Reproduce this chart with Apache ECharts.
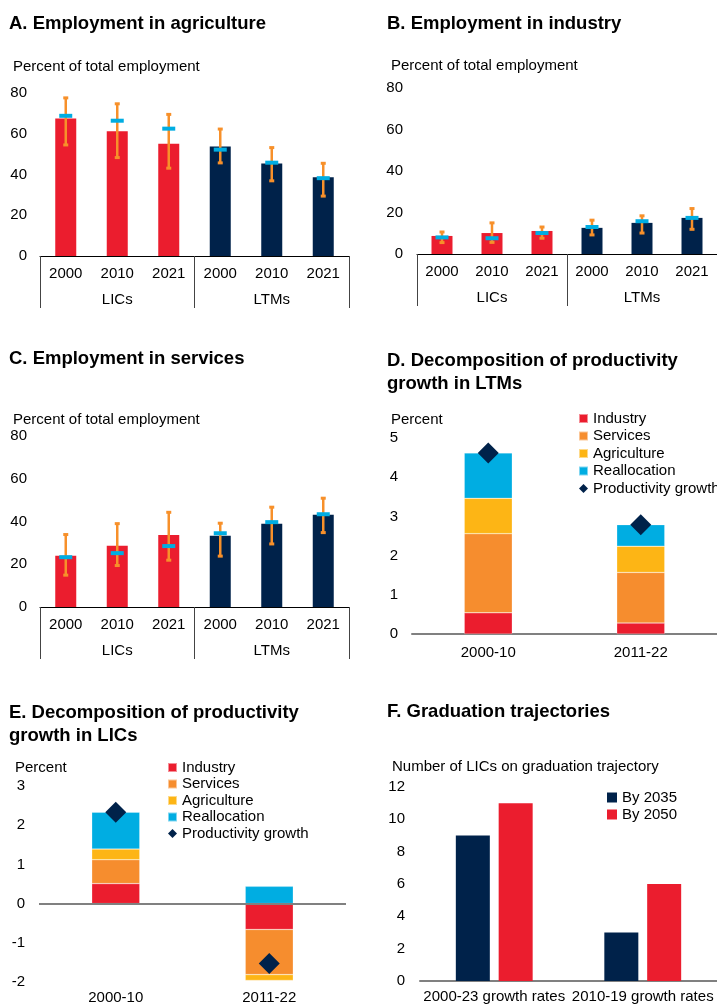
<!DOCTYPE html>
<html>
<head>
<meta charset="utf-8">
<script src="https://cdn.jsdelivr.net/npm/echarts@6/dist/echarts.min.js"></script>
<style>
  html, body { margin: 0; padding: 0; background: #fff; }
  #main { width: 717px; height: 1007px; }
</style>
</head>
<body>
<div id="main"></div>
<script>
// categories
var years = ['2000', '2010', '2021', '2000', '2010', '2021'];
var groups = ['LICs', 'LTMs'];
var periods = ['2000-10', '2011-22'];
var gradCats = ['2000-23 growth rates', '2010-19 growth rates'];

// A. agriculture: bar, blue marker, error range
var agriShare = [67.5, 61.2, 55.1, 53.7, 45.4, 38.7];
var agriMarker = [68.8, 66.4, 62.5, 52.2, 45.8, 38.2];
var agriLow = [54.5, 48.3, 43.1, 45.7, 36.9, 29.4];
var agriHigh = [77.6, 74.7, 69.5, 62.3, 53.2, 45.5];

// B. industry
var indShare = [8.7, 10.1, 11.1, 12.6, 15.0, 17.4];
var indMarker = [8.0, 7.6, 10.1, 13.0, 15.8, 17.4];
var indLow = [5.5, 5.6, 7.6, 9.2, 10.1, 11.9];
var indHigh = [10.6, 15.0, 13.0, 16.3, 18.4, 21.9];

// C. services
var servShare = [24.0, 28.6, 33.7, 33.3, 38.9, 43.1];
var servMarker = [23.3, 25.2, 28.5, 34.5, 39.7, 43.4];
var servLow = [14.9, 19.4, 21.9, 23.8, 29.5, 34.8];
var servHigh = [33.9, 39.0, 44.3, 39.2, 46.7, 50.9];

// D. decomposition LTMs
var ltmIndustry = [0.54, 0.28];
var ltmServices = [2.02, 1.29];
var ltmAgriculture = [0.90, 0.67];
var ltmReallocation = [1.16, 0.55];
var ltmProductivity = [4.62, 2.79];

// E. decomposition LICs
var licIndustry = [0.51, -0.66];
var licServices = [0.61, -1.15];
var licAgriculture = [0.27, -0.15];
var licReallocation = [0.94, 0.44];
var licProductivity = [2.33, -1.53];

// F. graduation trajectories
var by2035 = [9, 3];
var by2050 = [11, 6];

var RED = '#EB1D2E';
var NAVY = '#00224A';
var ORANGE = '#F68D2E';
var YELLOW = '#FDB515';
var BLUE = '#00ADE2';
var ERR = '#F7902A';
var FONT = 'Liberation Sans, Arial, sans-serif';

var myChart = echarts.init(document.getElementById('main'));

function barData(vals) {
    return vals.map(function (v, i) {
        return { value: v, itemStyle: { color: i < 3 ? RED : NAVY } };
    });
}

function errData(low, high) {
    return low.map(function (v, i) { return [i, v, high[i]]; });
}

function renderErr(params, api) {
    var top = api.coord([api.value(0), api.value(2)]);
    var bot = api.coord([api.value(0), api.value(1)]);
    var st = { fill: ERR, stroke: null };
    return {
        type: 'group',
        children: [
            { type: 'line', shape: { x1: top[0], y1: top[1], x2: bot[0], y2: bot[1] }, style: { stroke: ERR, lineWidth: 2.5 } },
            { type: 'rect', shape: { x: top[0] - 2.5, y: top[1] - 1.5, width: 5, height: 3 }, style: st },
            { type: 'rect', shape: { x: bot[0] - 2.5, y: bot[1] - 1.5, width: 5, height: 3 }, style: st }
        ]
    };
}

// one employment panel: bars + error range + marker
function employSeries(idx, share, marker, low, high) {
    return [
        { type: 'bar', xAxisIndex: idx * 2, yAxisIndex: idx, barWidth: 21, data: barData(share) },
        { type: 'custom', xAxisIndex: idx * 2, yAxisIndex: idx, renderItem: renderErr, data: errData(low, high), z: 3 },
        { type: 'scatter', xAxisIndex: idx * 2, yAxisIndex: idx, symbol: 'rect', symbolSize: [13, 4],
          itemStyle: { color: BLUE, opacity: 1 }, data: marker, z: 4 }
    ];
}

function yearAxis(grid) {
    return {
        type: 'category', gridIndex: grid, data: years, position: 'bottom',
        axisLine: { show: true, lineStyle: { color: '#000', width: 1 } },
        axisTick: { show: false },
        axisLabel: { color: '#000', fontSize: 15, fontFamily: FONT, margin: 10 }
    };
}

function groupAxis(grid) {
    return {
        type: 'category', gridIndex: grid, data: groups, position: 'bottom',
        axisLine: { show: false },
        axisTick: { show: true, length: 52, lineStyle: { color: '#444', width: 1 } },
        axisLabel: { color: '#000', fontSize: 15, fontFamily: FONT, margin: 36 }
    };
}

function valAxis(grid, min, max, step, margin) {
    return {
        type: 'value', gridIndex: grid, min: min, max: max, interval: step,
        axisLine: { show: false }, axisTick: { show: false }, splitLine: { show: false },
        axisLabel: { color: '#000', fontSize: 15, fontFamily: FONT, margin: margin }
    };
}

function periodAxis(grid, data, line, margin) {
    return {
        type: 'category', gridIndex: grid, data: data, position: 'bottom',
        axisLine: { show: line, onZero: false, lineStyle: { color: '#808080', width: 2 } },
        axisTick: { show: false },
        axisLabel: { color: '#000', fontSize: 15, fontFamily: FONT, margin: margin, interval: 0 }
    };
}

function heading(text, left, top) {
    return { text: text, left: left, top: top, padding: 0,
        textStyle: { fontSize: 18.5, fontWeight: 'bold', color: '#000', fontFamily: FONT, lineHeight: 23 } };
}

function unit(text, left, top) {
    return { text: text, left: left, top: top, padding: 0,
        textStyle: { fontSize: 15, fontWeight: 'normal', color: '#000', fontFamily: FONT } };
}

function stackSeries(xi, yi, stack, ind, serv, agri, realloc, prod) {
    var border = { borderColor: 'rgba(255,255,255,0.5)', borderWidth: 0.5 };
    return [
        { name: 'Industry', type: 'bar', stack: stack, xAxisIndex: xi, yAxisIndex: yi, barWidth: 48,
          itemStyle: Object.assign({ color: RED }, border), data: ind },
        { name: 'Services', type: 'bar', stack: stack, xAxisIndex: xi, yAxisIndex: yi,
          itemStyle: Object.assign({ color: ORANGE }, border), data: serv },
        { name: 'Agriculture', type: 'bar', stack: stack, xAxisIndex: xi, yAxisIndex: yi,
          itemStyle: Object.assign({ color: YELLOW }, border), data: agri },
        { name: 'Reallocation', type: 'bar', stack: stack, xAxisIndex: xi, yAxisIndex: yi,
          itemStyle: Object.assign({ color: BLUE }, border), data: realloc },
        { name: 'Productivity growth', type: 'scatter', xAxisIndex: xi, yAxisIndex: yi, symbol: 'diamond',
          symbolSize: 21, itemStyle: { color: NAVY, opacity: 1 }, data: prod, z: 5 }
    ];
}

var legendText = { fontSize: 15, color: '#000', fontFamily: FONT };
var decompNames = [
    { name: 'Industry', icon: 'rect' },
    { name: 'Services', icon: 'rect' },
    { name: 'Agriculture', icon: 'rect' },
    { name: 'Reallocation', icon: 'rect' },
    { name: 'Productivity growth', icon: 'diamond' }
];

var option = {
    animation: false,
    backgroundColor: '#fff',
    textStyle: { fontFamily: FONT },
    title: [
        heading('A. Employment in agriculture', 9, 12),
        heading('B. Employment in industry', 387, 12),
        heading('C. Employment in services', 9, 347),
        heading('D. Decomposition of productivity\ngrowth in LTMs', 387, 349),
        heading('E. Decomposition of productivity\ngrowth in LICs', 9, 701),
        heading('F. Graduation trajectories', 387, 700),
        unit('Percent of total employment', 13, 59),
        unit('Percent of total employment', 391, 58),
        unit('Percent of total employment', 13, 412),
        unit('Percent', 391, 412),
        unit('Percent', 15, 760),
        unit('Number of LICs on graduation trajectory', 392, 759)
    ],
    legend: [
        { data: decompNames, orient: 'vertical', left: 578, top: 411, padding: 0, itemWidth: 9, itemHeight: 9,
          itemGap: 2.5, textStyle: legendText, selectedMode: false },
        { data: decompNames, orient: 'vertical', left: 167, top: 760, padding: 0, itemWidth: 9, itemHeight: 9,
          itemGap: 1.5, textStyle: legendText, selectedMode: false },
        { data: [{ name: 'By 2035', icon: 'rect' }, { name: 'By 2050', icon: 'rect' }], orient: 'vertical',
          left: 607, top: 790, padding: 0, itemWidth: 10, itemHeight: 10,
          itemGap: 2, textStyle: legendText, selectedMode: false }
    ],
    grid: [
        { left: 40, top: 93, width: 309, height: 163 },
        { left: 417, top: 88, width: 308, height: 166 },
        { left: 40, top: 436, width: 309, height: 171 },
        { left: 412, top: 438, width: 310, height: 196 },
        { left: 39, top: 786, width: 307, height: 196 },
        { left: 420, top: 787, width: 304, height: 194 }
    ],
    xAxis: [
        yearAxis(0), groupAxis(0),
        yearAxis(1), groupAxis(1),
        yearAxis(2), groupAxis(2),
        periodAxis(3, periods, true, 11),
        periodAxis(4, periods, false, 8),
        periodAxis(5, gradCats, true, 8)
    ],
    yAxis: [
        valAxis(0, 0, 80, 20, 13),
        valAxis(1, 0, 80, 20, 14),
        valAxis(2, 0, 80, 20, 13),
        valAxis(3, 0, 5, 1, 14),
        valAxis(4, -2, 3, 1, 14),
        valAxis(5, 0, 12, 2, 15)
    ],
    series: []
};

option.series = option.series
    .concat(employSeries(0, agriShare, agriMarker, agriLow, agriHigh))
    .concat(employSeries(1, indShare, indMarker, indLow, indHigh))
    .concat(employSeries(2, servShare, servMarker, servLow, servHigh))
    .concat(stackSeries(6, 3, 'ltm', ltmIndustry, ltmServices, ltmAgriculture, ltmReallocation, ltmProductivity))
    .concat(stackSeries(7, 4, 'lic', licIndustry, licServices, licAgriculture, licReallocation, licProductivity));

// zero line for panel E
option.series.push({
    type: 'line', xAxisIndex: 7, yAxisIndex: 4, data: [], silent: true,
    markLine: { silent: true, symbol: 'none', label: { show: false },
        lineStyle: { color: '#808080', width: 2, type: 'solid' }, data: [{ yAxis: 0 }] },
    z: 1
});

// F
option.series.push(
    { name: 'By 2035', type: 'bar', xAxisIndex: 8, yAxisIndex: 5, barWidth: 34, barGap: '26%',
      itemStyle: { color: NAVY }, data: by2035 },
    { name: 'By 2050', type: 'bar', xAxisIndex: 8, yAxisIndex: 5, barWidth: 34, barGap: '26%',
      itemStyle: { color: RED }, data: by2050 }
);

myChart.setOption(option);
</script>
</body>
</html>
